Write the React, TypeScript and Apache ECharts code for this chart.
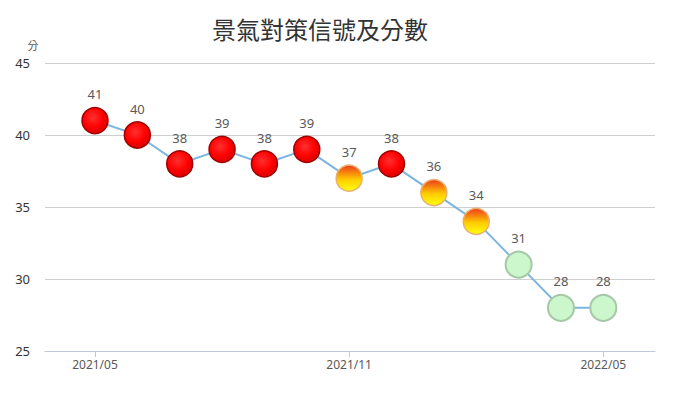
import React, { useEffect, useRef } from "react";
import * as echarts from "echarts";

const months = [
  "2021/05", "2021/06", "2021/07", "2021/08", "2021/09", "2021/10", "2021/11",
  "2021/12", "2022/01", "2022/02", "2022/03", "2022/04", "2022/05",
];
const scores = [41, 40, 38, 39, 38, 39, 37, 38, 36, 34, 31, 28, 28];
const signals = ["red", "red", "red", "red", "red", "red", "yellowRed", "red", "yellowRed", "yellowRed", "green", "green", "green"];
const shownTicks = ["2021/05", "2021/11", "2022/05"];
const yTicks = [25, 30, 35, 40, 45];
const yUnit = "分";

const styleFor = (sig: string) => {
  if (sig === "red") {
    return {
      color: new echarts.graphic.RadialGradient(0.42, 0.38, 0.65, [
        { offset: 0, color: "#ff3030" },
        { offset: 0.6, color: "#ff0000" },
        { offset: 1, color: "#d80000" },
      ]),
      borderColor: "#a00000",
      borderWidth: 1.5,
    };
  }
  if (sig === "yellowRed") {
    return {
      color: new echarts.graphic.LinearGradient(0, 0, 0, 1, [
        { offset: 0, color: "#ee3a1c" },
        { offset: 0.55, color: "#ffcc00" },
        { offset: 1, color: "#ffff10" },
      ]),
      borderColor: "#e8b070",
      borderWidth: 1.5,
    };
  }
  return { color: "#ccf6cc", borderColor: "#a6c8a6", borderWidth: 2 };
};

export default function App() {
  const ref = useRef<HTMLDivElement>(null);
  useEffect(() => {
    if (!ref.current) return;
    const chart = echarts.init(ref.current, null, { renderer: "svg" });
    const data = scores.map((v, i) => ({ value: [i, v], itemStyle: styleFor(signals[i]) }));
    const tickIdx = shownTicks.map((m) => months.indexOf(m));
    chart.setOption({
      animation: false,
      backgroundColor: "#ffffff",
      title: {
        text: "景氣對策信號及分數",
        left: 315,
        textAlign: "center",
        top: 11,
        textStyle: { fontFamily: "Noto Sans CJK TC", fontSize: 24, fontWeight: "normal", color: "#333333" },
      },
      graphic: [
        {
          type: "text",
          x: 33,
          y: 45,
          style: {
            text: yUnit,
            fill: "#595959",
            font: '11px "Noto Sans CJK TC"',
            align: "center",
            verticalAlign: "middle",
          },
        },
      ],
      grid: { left: 45, right: 37, top: 63, bottom: 47 },
      xAxis: {
        type: "value",
        min: -1.18,
        max: 13.22,
        splitLine: { show: false },
        axisLine: { show: true, lineStyle: { color: "#bfcbd9", width: 1 } },
        axisTick: { show: true, customValues: tickIdx, length: 6, lineStyle: { color: "#bfcbd9" } },
        axisLabel: {
          customValues: tickIdx,
          formatter: (v: number) => months[Math.round(v)] ?? "",
          color: "#595959",
          fontSize: 12,
          margin: 7,
          fontFamily: "Noto Sans",
        },
      },
      yAxis: {
        type: "value",
        min: yTicks[0],
        max: yTicks[yTicks.length - 1],
        interval: 5,
        axisLine: { show: false },
        axisTick: { show: false },
        axisLabel: { color: "#333333", fontSize: 13, margin: 15, fontFamily: "Noto Sans" },
        splitLine: { lineStyle: { color: "#cfcfcf", width: 1 } },
      },
      series: [
        {
          type: "line",
          data,
          symbol: "circle",
          symbolSize: 26,
          lineStyle: { color: "#7cb5e0", width: 2 },
          label: {
            show: true,
            position: "top",
            distance: 6,
            color: "#595959",
            fontSize: 13,
            fontFamily: "Noto Sans",
            formatter: (p: any) => String(p.value[1]),
          },
        },
      ],
    });
    return () => chart.dispose();
  }, []);
  return <div ref={ref} style={{ width: 692, height: 398, position: "absolute", left: 0, top: 0 }} />;
}
